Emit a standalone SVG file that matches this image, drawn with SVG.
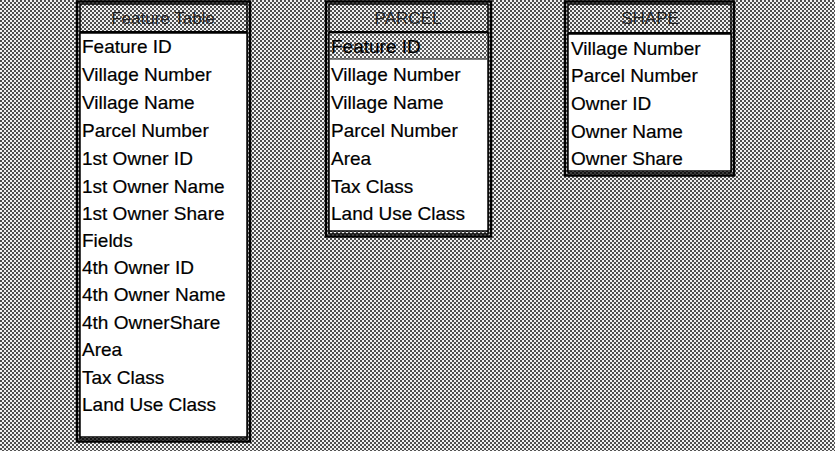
<svg xmlns="http://www.w3.org/2000/svg" width="835" height="451" viewBox="0 0 835 451">
<defs>
<pattern id="dither" width="4" height="4" patternUnits="userSpaceOnUse">
<rect width="4" height="4" fill="#f2f2f2"/>
<rect x="0" y="0" width="2" height="2" fill="#505050"/>
<rect x="2" y="2" width="2" height="2" fill="#505050"/>
</pattern>
<pattern id="dither2" width="4" height="4" patternUnits="userSpaceOnUse">
<rect width="4" height="4" fill="#f5f5f5"/>
<rect x="0" y="0" width="2" height="2" fill="#5a5a5a"/>
<rect x="2" y="2" width="2" height="2" fill="#5a5a5a"/>
</pattern>
</defs>
<style>
.frame{fill:url(#dither);stroke:#000;stroke-width:2.5}
.inner{fill:none;stroke:#000;stroke-width:1.5}
.hline{stroke:#000;stroke-width:2}
.body{fill:#fff;stroke:#000;stroke-width:1.5}
.sel{fill:url(#dither2)}
.t{font-family:"Liberation Sans",Arial,sans-serif;font-size:19px;fill:#000;stroke:#000;stroke-width:0.2}
.h{font-family:"Liberation Sans",Arial,sans-serif;font-size:17px;fill:#222;text-anchor:middle}
</style>
<rect width="835" height="451" fill="url(#dither)"/>

<g id="feature-table">
<rect class="frame" x="77" y="1.5" width="173" height="440"/>
<rect class="inner" x="80" y="4" width="167" height="435"/>
<line class="hline" x1="80" y1="32" x2="247" y2="32"/>
<rect class="body" x="80" y="33" width="167" height="404"/>
<text class="h" x="163" y="24">Feature Table</text>
<text class="t" x="82" y="53">Feature ID</text>
<text class="t" x="82" y="81">Village Number</text>
<text class="t" x="82" y="109">Village Name</text>
<text class="t" x="82" y="137">Parcel Number</text>
<text class="t" x="82" y="165">1st Owner ID</text>
<text class="t" x="82" y="193">1st Owner Name</text>
<text class="t" x="82" y="220">1st Owner Share</text>
<text class="t" x="82" y="247">Fields</text>
<text class="t" x="82" y="274">4th Owner ID</text>
<text class="t" x="82" y="301">4th Owner Name</text>
<text class="t" x="82" y="329">4th OwnerShare</text>
<text class="t" x="82" y="356">Area</text>
<text class="t" x="82" y="384">Tax Class</text>
<text class="t" x="82" y="411">Land Use Class</text>
</g>

<g id="parcel">
<rect class="frame" x="326" y="1.5" width="165" height="235"/>
<rect class="inner" x="329" y="4" width="159" height="230"/>
<line class="hline" x1="329" y1="32" x2="488" y2="32"/>
<rect class="body" x="329" y="33" width="159" height="198"/>
<rect class="sel" x="330" y="33.5" width="157" height="25"/>
<line x1="330" y1="59" x2="487" y2="59" stroke="#000" stroke-width="1"/>
<text class="h" x="408" y="24">PARCEL</text>
<text class="t" x="331" y="53">Feature ID</text>
<text class="t" x="331" y="81">Village Number</text>
<text class="t" x="331" y="109">Village Name</text>
<text class="t" x="331" y="137">Parcel Number</text>
<text class="t" x="331" y="165">Area</text>
<text class="t" x="331" y="193">Tax Class</text>
<text class="t" x="331" y="220">Land Use Class</text>
</g>

<g id="shape">
<rect class="frame" x="565" y="1.5" width="169" height="174"/>
<rect class="inner" x="568" y="4" width="163" height="169"/>
<line class="hline" x1="568" y1="33" x2="731" y2="33"/>
<rect class="body" x="568" y="34" width="163" height="137"/>
<text class="h" x="650" y="24">SHAPE</text>
<text class="t" x="571" y="55">Village Number</text>
<text class="t" x="571" y="82">Parcel Number</text>
<text class="t" x="571" y="110">Owner ID</text>
<text class="t" x="571" y="138">Owner Name</text>
<text class="t" x="571" y="165">Owner Share</text>
</g>

<g id="connectors"></g>
</svg>
